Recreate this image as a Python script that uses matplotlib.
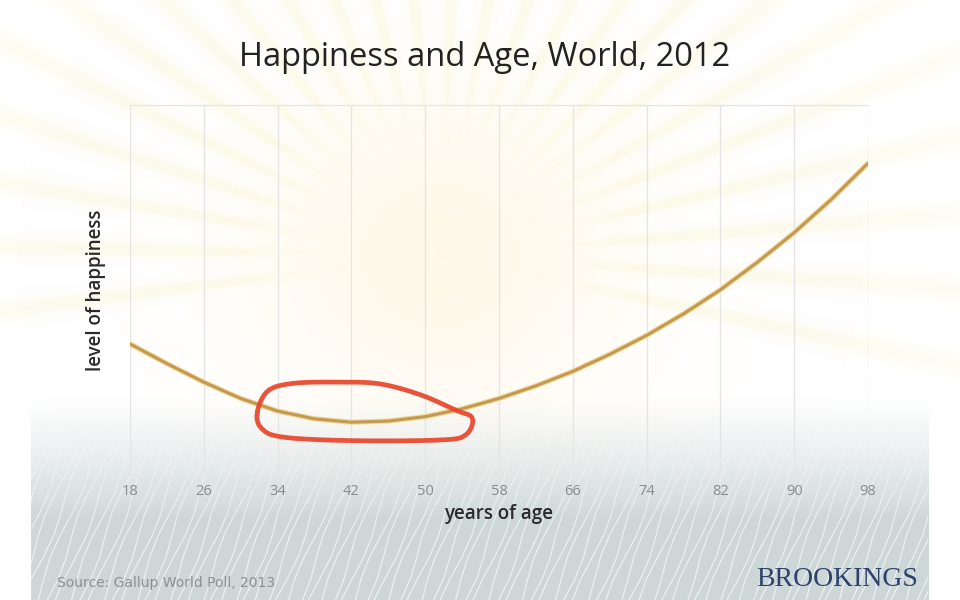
import numpy as np
import matplotlib
matplotlib.use("Agg")
import matplotlib.pyplot as plt
from matplotlib.collections import LineCollection
from matplotlib.patches import Rectangle

# ---- data ----
ages = [18, 22, 26, 30, 34, 38, 42, 46, 50, 54, 58, 62, 66, 70, 74, 78, 82, 86, 90, 94, 98]
happiness = [35.6, 30.3, 25.3, 20.9, 17.5, 15.4, 14.5, 14.8, 16.0, 18.1, 20.9,
             24.3, 28.2, 32.8, 37.9, 43.7, 50.2, 57.6, 65.6, 74.5, 84.3]
x_ticks = [18, 26, 34, 42, 50, 58, 66, 74, 82, 90, 98]

# hand-drawn highlight around the bottom of the curve
highlight_ages = (31.8, 55.1)
highlight_levels = (9.7, 25.3)

title = "Happiness and Age, World, 2012"
source = "Source: Gallup World Poll, 2013"

W, H = 960, 600
fig = plt.figure(figsize=(9.6, 6.0), dpi=100)
fig.patch.set_facecolor("white")

# ---- background: soft sun rays, glow, rainy bottom ----
bg = fig.add_axes([0, 0, 1, 1], zorder=0)
bg.set_xlim(0, W)
bg.set_ylim(H, 0)
bg.axis("off")

cx, cy = 440, 255
gx, gy = np.meshgrid(np.arange(W), np.arange(H))
d = np.hypot(gx - cx, gy - cy)
theta = np.degrees(np.arctan2(cy - gy, gx - cx))

ray_angles = np.arange(-12, 195, 8.3)
intensity = np.zeros((H, W))
for ang in ray_angles:
    dt = (theta - ang + 180) % 360 - 180
    intensity += np.exp(-(dt / 1.5) ** 2)
radial = np.clip((d - 90) / 120.0, 0, 1) * np.exp(-((d - 180) / 480.0) ** 2)
rays = np.zeros((H, W, 4))
rays[..., 0], rays[..., 1], rays[..., 2] = 0.95, 0.93, 0.64
rays[..., 3] = np.clip(0.22 * intensity * radial, 0, 1)
bg.imshow(rays, extent=(0, W, H, 0), zorder=1, interpolation="bilinear")

glow = np.zeros((H, W, 4))
glow[..., 0], glow[..., 1], glow[..., 2] = 1.0, 0.96, 0.85
glow[..., 3] = 0.55 * np.exp(-(np.hypot(gx - cx, (gy - cy) * 1.1) / 190.0) ** 2)
bg.imshow(glow, extent=(0, W, H, 0), zorder=1.5, interpolation="bilinear")

rain = np.zeros((H, W, 4))
rain[..., 0], rain[..., 1], rain[..., 2] = 0.805, 0.845, 0.85
ramp = np.clip((gy - 395) / 125.0, 0, 1) ** 1.2
rain[..., 3] = ramp * ((gx >= 31) & (gx <= 928))
bg.imshow(rain, extent=(0, W, H, 0), zorder=2, interpolation="bilinear")

segs, cols = [], []
for x0 in np.arange(-140, 960, 11.0):
    ys = np.linspace(600, 405, 10)
    xs = x0 + 0.4 * (600 - ys) + 3.0 * np.sin((ys + x0 * 3.7) / 19.0)
    for i in range(len(ys) - 1):
        segs.append([(xs[i], ys[i]), (xs[i + 1], ys[i + 1])])
        a = np.clip((ys[i] - 415) / 130.0, 0, 1) * 0.7
        cols.append((1, 1, 1, a))
lc = LineCollection(segs, colors=cols, linewidths=0.8, zorder=3)
bg.add_collection(lc)
lc.set_clip_path(Rectangle((31, 380), 897, 220, transform=bg.transData))

# ---- chart ----
ax = fig.add_axes([130 / W, 1 - 476 / H, (868 - 130) / W, (476 - 105) / H], zorder=2)
ax.set_facecolor("none")
ax.set_xlim(18, 98)
ax.set_ylim(0, 100)

ax.plot(ages, happiness, color="#f2d9a0", lw=3.8, solid_capstyle="round",
        solid_joinstyle="round", zorder=4)
ax.plot(ages, happiness, color="#c39a50", lw=2.2, solid_capstyle="round",
        solid_joinstyle="round", zorder=5)

ax.set_xticks(x_ticks)
ax.set_xticklabels([str(t) for t in x_ticks])
ax.set_yticks([])
ax.tick_params(axis="x", length=0, pad=6, labelsize=10.5, labelcolor="#858d8f")
for lbl in ax.get_xticklabels():
    lbl.set_family(["Open Sans", "DejaVu Sans"])
ax.grid(axis="x", color="#e4e4e4", lw=0.9)
ax.set_axisbelow(True)
for side in ["left", "right"]:
    ax.spines[side].set_visible(False)
for side in ["top", "bottom"]:
    ax.spines[side].set_color("#e4e6e6")
    ax.spines[side].set_linewidth(0.9)

ax.set_xlabel("years of age", fontsize=13.5, color="#2a2a2a", labelpad=3,
              family=["Open Sans", "DejaVu Sans"], fontweight="semibold")
ax.set_ylabel("level of happiness", fontsize=13.5, color="#2a2a2a", labelpad=17,
              family=["Open Sans", "DejaVu Sans"], fontweight="semibold")

# red hand-drawn loop, shape given relative to the highlight box
loop_u = np.array([0.0, 0.05, 0.17, 0.38, 0.57, 0.76, 0.92, 1.0, 0.97, 0.85, 0.43, 0.12, 0.02])
loop_v = np.array([0.48, 0.85, 0.98, 1.0, 0.97, 0.78, 0.52, 0.38, 0.09, 0.0, -0.01, 0.05, 0.2])
n = len(loop_u)
t = np.linspace(0, 1, 20, endpoint=False)
lx, ly = [], []
for i in range(n):
    p0, p1, p2, p3 = [(loop_u[(i + k) % n], loop_v[(i + k) % n]) for k in (-1, 0, 1, 2)]
    for tt in t:
        t2, t3 = tt * tt, tt * tt * tt
        for out, k in ((lx, 0), (ly, 1)):
            out.append(0.5 * (2 * p1[k] + (-p0[k] + p2[k]) * tt
                              + (2 * p0[k] - 5 * p1[k] + 4 * p2[k] - p3[k]) * t2
                              + (-p0[k] + 3 * p1[k] - 3 * p2[k] + p3[k]) * t3))
lx.append(lx[0])
ly.append(ly[0])
lx = highlight_ages[0] + np.array(lx) * (highlight_ages[1] - highlight_ages[0])
ly = highlight_levels[0] + np.array(ly) * (highlight_levels[1] - highlight_levels[0])
ax.plot(lx, ly, color="#e8452c", lw=3.4, alpha=0.92, solid_capstyle="round", zorder=6)

# ---- text ----
fig.text(485 / W, 1 - 57 / H, title, ha="center", va="center", fontsize=23.5,
         color="#222222", family=["Open Sans", "DejaVu Sans"])
fig.text(57 / W, 1 - 583 / H, source, ha="left", va="center", fontsize=10,
         color="#8a9294", family=["Liberation Sans Narrow", "DejaVu Sans"])
fig.text(918 / W, 1 - 579 / H, "BROOKINGS", ha="right", va="center", fontsize=20,
         color="#2d416b", family=["Liberation Serif", "DejaVu Serif"])

fig.savefig("out.png", dpi=100, facecolor="white")
